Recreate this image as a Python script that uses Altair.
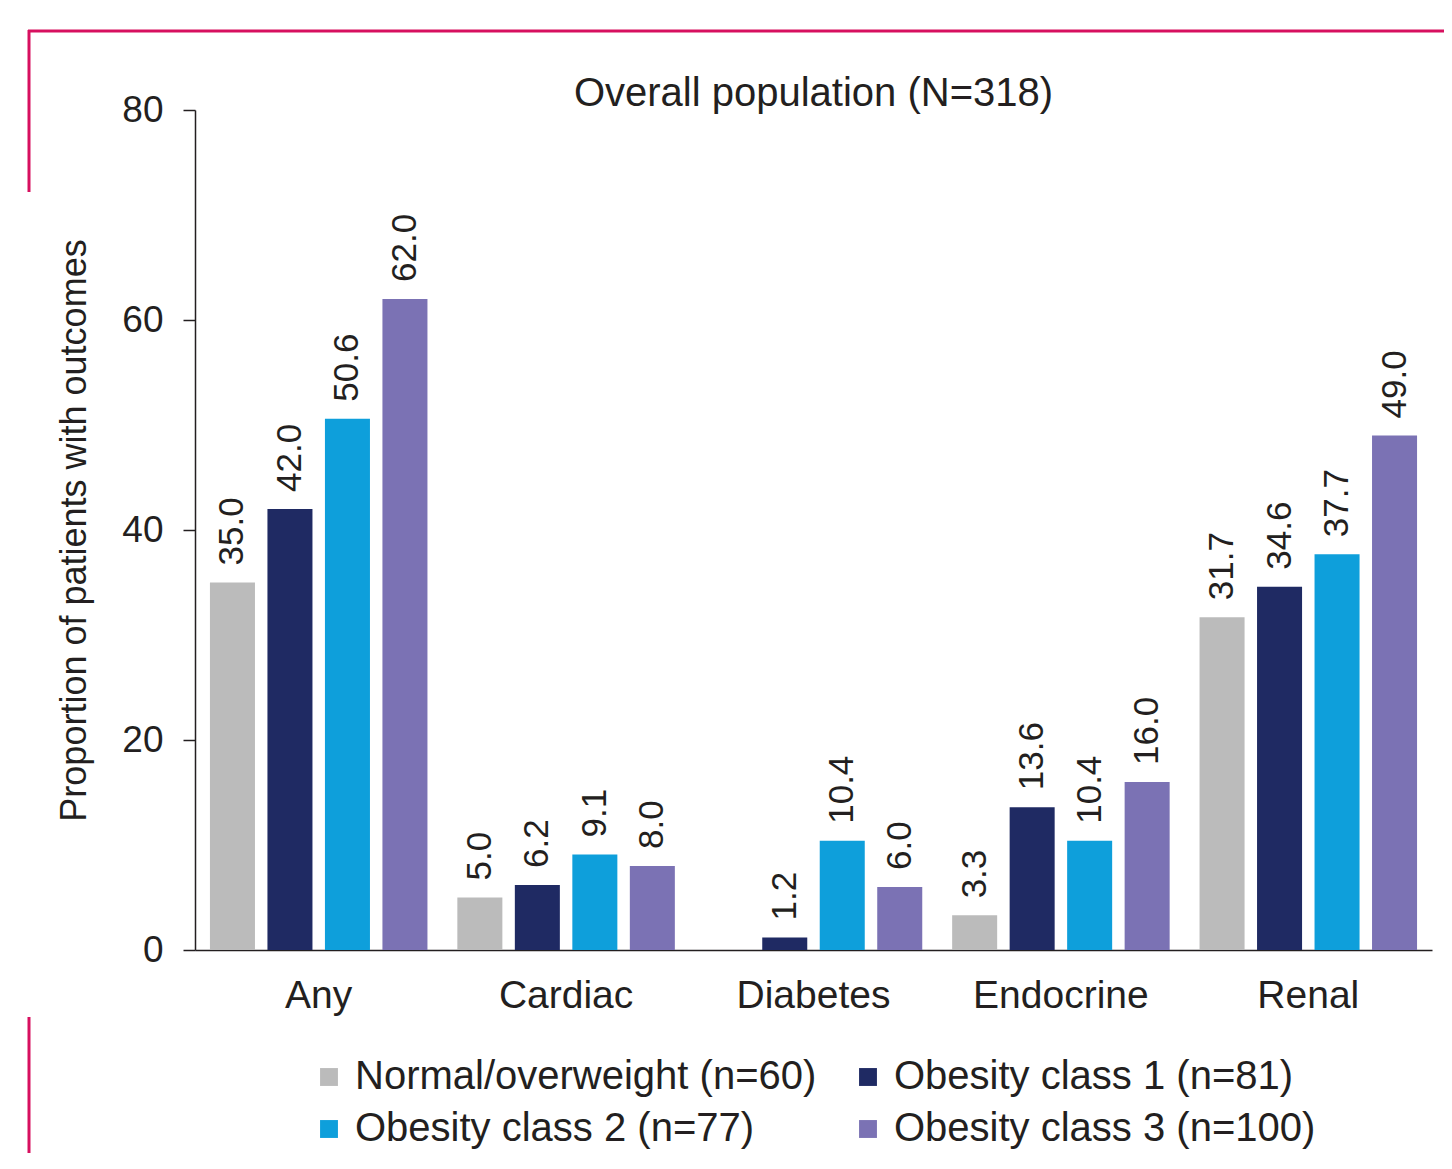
import altair as alt
import pandas as pd

categories = ["Any", "Cardiac", "Diabetes", "Endocrine", "Renal"]
groups = [
    "Normal/overweight (n=60)",
    "Obesity class 1 (n=81)",
    "Obesity class 2 (n=77)",
    "Obesity class 3 (n=100)",
]
normal_overweight = [35.0, 5.0, None, 3.3, 31.7]
obesity_class1 = [42.0, 6.2, 1.2, 13.6, 34.6]
obesity_class2 = [50.6, 9.1, 10.4, 10.4, 37.7]
obesity_class3 = [62.0, 8.0, 6.0, 16.0, 49.0]
colors = ["#BBBBBB", "#1F2A63", "#0E9FDB", "#7B72B4"]
y_ticks = [0, 20, 40, 60, 80]

series = [normal_overweight, obesity_class1, obesity_class2, obesity_class3]
rows = []
for g, vals in zip(groups, series):
    for c, v in zip(categories, vals):
        if v is not None:
            rows.append({"category": c, "group": g, "value": v})
df = pd.DataFrame(rows)

FONT = "Liberation Sans"
DARK = "#231F20"
FRAME = "#D7105F"

x_enc = alt.X("category:N", sort=categories, title=None,
              scale=alt.Scale(paddingInner=0, paddingOuter=0),
              axis=alt.Axis(labelAngle=0, ticks=False, labelFontSize=39,
                            labelPadding=26, labelColor=DARK,
                            domainColor=DARK, domainWidth=1.5))
xo_enc = alt.XOffset("group:N", sort=groups,
                     scale=alt.Scale(domain=groups, paddingInner=0.217, paddingOuter=0.26))
y_enc = alt.Y("value:Q", title="Proportion of patients with outcomes",
              scale=alt.Scale(domain=[0, 80], nice=False),
              axis=alt.Axis(values=y_ticks, grid=False, tickSize=12, tickColor=DARK,
                            tickWidth=1.5, domainColor=DARK, domainWidth=1.5,
                            labelFontSize=37, labelPadding=20, labelColor=DARK,
                            titleFontSize=36, titleFontWeight="normal",
                            titleColor=DARK, titlePadding=28))

base = alt.Chart(df)

bars = base.mark_bar().encode(
    x=x_enc,
    xOffset=xo_enc,
    y=y_enc,
    color=alt.Color("group:N", sort=groups,
                    scale=alt.Scale(domain=groups, range=colors),
                    legend=alt.Legend(title=None, orient="none", legendX=114, legendY=947,
                                      direction="horizontal",
                                      columns=2, columnPadding=31, rowPadding=12,
                                      symbolType="square", symbolSize=320,
                                      symbolStrokeWidth=0, labelFontSize=40,
                                      labelColor=DARK, labelOffset=6, labelLimit=0,
                                      padding=0)),
)

labels = base.mark_text(angle=270, align="left", baseline="middle", dx=17,
                        fontSize=35, color=DARK).encode(
    x=alt.X("category:N", sort=categories),
    xOffset=alt.XOffset("group:N", sort=groups),
    y="value:Q",
    text=alt.Text("value:Q", format=".1f"),
)

one = pd.DataFrame({"k": [0]})
frame_top = alt.Chart(one).mark_rule(color=FRAME, strokeWidth=3).encode(
    x=alt.value(-167), x2=alt.value(1250), y=alt.value(-79))
frame_left_top = alt.Chart(one).mark_rule(color=FRAME, strokeWidth=3).encode(
    x=alt.value(-166), y=alt.value(-80), y2=alt.value(82))
frame_left_bottom = alt.Chart(one).mark_rule(color=FRAME, strokeWidth=3).encode(
    x=alt.value(-166), y=alt.value(907), y2=alt.value(1060))

chart = alt.layer(bars, labels, frame_top, frame_left_top, frame_left_bottom).properties(
    width=1237,
    height=840,
    padding={"left": 187, "top": 102, "right": 12, "bottom": 203},
    autosize=alt.AutoSizeParams(type="none"),
    title=alt.Title("Overall population (N=318)", fontSize=40, fontWeight="normal",
                    color=DARK, anchor="middle", offset=-85),
).configure(font=FONT).configure_view(stroke=None)

chart.save("out.html", embed_options={"renderer": "svg", "actions": False})
